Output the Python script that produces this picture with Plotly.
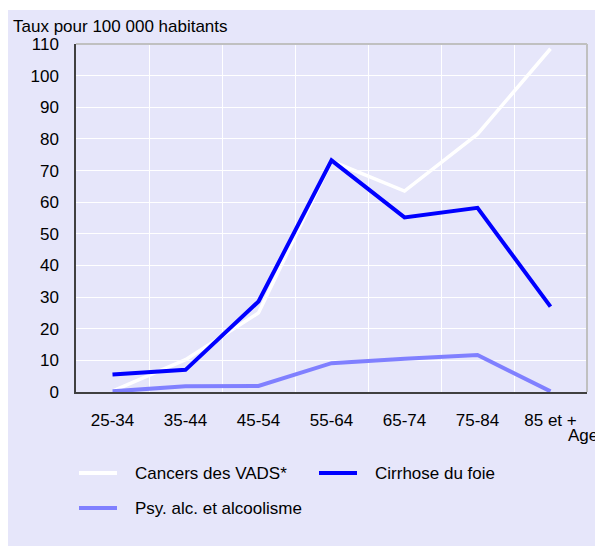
import plotly.graph_objects as go

# Age groups and rates per 100 000 inhabitants
AGES = ["25-34", "35-44", "45-54", "55-64", "65-74", "75-84", "85 et +"]
VADS = [0.3, 10.2, 25.0, 73.0, 63.5, 81.5, 108.5]
CIRRHOSE = [5.5, 7.0, 28.6, 73.2, 55.2, 58.2, 27.0]
PSY = [0.2, 1.8, 1.9, 9.1, 10.5, 11.7, 0.2]

Y_TICKS = list(range(0, 111, 10))

BG = "#e6e6fa"
FONT = "Liberation Sans, Arial, sans-serif"

# page offsets: the figure sits inside the default 8px body margin
OFF = 8
W, H = 603 - OFF, 546 - OFF
# plot area in screen pixels (used to place the page furniture)
L, R, T, B = 76, 587, 44, 392


def px_x(p):
    return (p - L) / (R - L)


def px_y(p):
    return (B - p) / (B - T)


SERIES = [
    ("Cancers des VADS*", VADS, "#ffffff", 3.5),
    ("Psy. alc. et alcoolisme", PSY, "#8080ff", 4),
    ("Cirrhose du foie", CIRRHOSE, "#0000ff", 4),
]

fig = go.Figure()
for name, values, color, width in SERIES:
    fig.add_scatter(x=AGES, y=values, name=name, mode="lines",
                    line=dict(color=color, width=width))

shapes = [
    # lavender panel behind everything
    dict(type="rect", xref="paper", yref="paper", layer="below",
         x0=px_x(8), x1=px_x(610), y0=px_y(560), y1=px_y(10),
         fillcolor=BG, line_width=0),
    # grey top / right frame
    dict(type="line", xref="paper", yref="paper", x0=0, x1=1, y0=1, y1=1,
         line=dict(color="#c0c0c0", width=2)),
    dict(type="line", xref="paper", yref="paper", x0=1, x1=1, y0=0, y1=1,
         line=dict(color="#c0c0c0", width=2)),
]

annotations = [
    dict(text="Taux pour 100 000 habitants", xref="paper", yref="paper",
         x=px_x(11), y=px_y(27), xanchor="left", yanchor="middle",
         showarrow=False, font=dict(size=17)),
    # nudged left a touch so the whole word stays on the page
    dict(text="Age", xref="paper", yref="paper",
         x=px_x(566), y=px_y(435), xanchor="left", yanchor="middle",
         showarrow=False, font=dict(size=17)),
]

# hand-placed legend: (label, colour, line start x, centre y)
legend_items = [
    ("Cancers des VADS*", "#ffffff", 79, 473),
    ("Cirrhose du foie", "#0000ff", 319, 473),
    ("Psy. alc. et alcoolisme", "#8080ff", 79, 508),
]
for label, color, x0, y in legend_items:
    shapes.append(dict(type="line", xref="paper", yref="paper",
                       x0=px_x(x0), x1=px_x(x0 + 38), y0=px_y(y), y1=px_y(y),
                       line=dict(color=color, width=4)))
    annotations.append(dict(text=label, xref="paper", yref="paper",
                            x=px_x(x0 + 54), y=px_y(y), xanchor="left",
                            yanchor="middle", showarrow=False,
                            font=dict(size=17)))

fig.update_layout(
    width=W,
    height=H,
    margin=dict(l=L - OFF, r=W - (R - OFF), t=T - OFF, b=H - (B - OFF)),
    paper_bgcolor="#ffffff",
    plot_bgcolor=BG,
    font=dict(family=FONT, size=17, color="#000000"),
    showlegend=False,
    shapes=shapes,
    annotations=annotations,
    xaxis=dict(
        type="category",
        range=[-0.5, 6.5],
        tickson="boundaries",
        ticks="",
        showgrid=True,
        gridcolor="#ffffff",
        gridwidth=1,
        showline=True,
        linecolor="#404040",
        linewidth=1.5,
        ticklabelstandoff=12,
        zeroline=False,
    ),
    yaxis=dict(
        range=[0, 110],
        tickvals=Y_TICKS,
        ticks="",
        showgrid=True,
        gridcolor="#ffffff",
        gridwidth=1,
        showline=True,
        linecolor="#404040",
        linewidth=1.5,
        ticklabelstandoff=12,
        zeroline=False,
    ),
)

fig.write_html("out.html")
